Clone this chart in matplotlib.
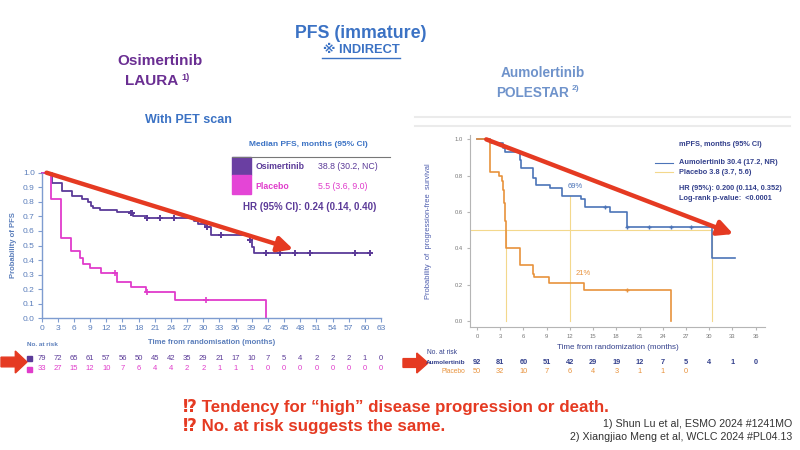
import matplotlib
matplotlib.use('Agg')
import matplotlib.pyplot as plt
import numpy as np
from matplotlib.transforms import blended_transform_factory
from matplotlib.patches import Polygon, Rectangle

plt.rcParams['font.family'] = ['Liberation Sans', 'DejaVu Sans', 'Noto Sans CJK JP']

# ---- LAURA (osimertinib vs placebo) ----
osi_t = [0, 1.9, 3.7, 5.6, 7.4, 8.6, 9.1, 9.5, 10.8, 13.9, 16.4, 17.0, 19.5, 28.2, 29.0, 30.3, 31.5, 38.6, 39.0, 39.4, 60.9]
osi_s = [1.0, 0.927, 0.872, 0.84, 0.82, 0.80, 0.77, 0.755, 0.744, 0.732, 0.72, 0.705, 0.687, 0.665, 0.645, 0.625, 0.572, 0.538, 0.49, 0.446, 0.446]
osi_cens = [16.5, 16.8, 19.5, 22.0, 24.6, 30.6, 33.2, 38.6, 41.6, 44.3, 47.0, 49.8, 58.1, 60.9]

plcL_t = [0, 1.7, 3.6, 5.4, 7.1, 7.6, 9.0, 11.1, 13.9, 16.6, 19.3, 24.7, 41.6]
plcL_s = [1.0, 0.82, 0.549, 0.462, 0.416, 0.373, 0.348, 0.313, 0.247, 0.217, 0.178, 0.126, 0.0]
plcL_cens = [13.6, 19.5, 30.5]

months_left = list(range(0, 64, 3))
risk_osi = [79, 72, 65, 61, 57, 56, 50, 45, 42, 35, 29, 21, 17, 10, 7, 5, 4, 2, 2, 2, 1, 0]
risk_plcL = [33, 27, 15, 12, 10, 7, 6, 4, 4, 2, 2, 1, 1, 1, 0, 0, 0, 0, 0, 0, 0, 0]

# ---- POLESTAR (aumolertinib vs placebo) ----
aum_t = [0, 1.7, 3.4, 3.65, 5.5, 5.7, 7.3, 7.65, 9.4, 11.0, 13.5, 14.0, 17.2, 19.4, 30.4, 33.3]
aum_s = [1.0, 0.98, 0.955, 0.932, 0.888, 0.844, 0.79, 0.748, 0.73, 0.688, 0.67, 0.629, 0.60, 0.52, 0.345, 0.345]
aum_cens = [16.6, 19.4, 22.2, 25.0, 27.6]

plcR_t = [0, 1.7, 2.9, 3.2, 3.4, 3.55, 3.65, 3.8, 5.5, 7.2, 7.4, 9.3, 13.8, 25.0]
plcR_s = [1.0, 0.82, 0.80, 0.77, 0.72, 0.65, 0.55, 0.40, 0.307, 0.26, 0.244, 0.207, 0.171, 0.0]
plcR_cens = [19.4]

months_right = list(range(0, 37, 3))
risk_aum = [92, 81, 60, 51, 42, 29, 19, 12, 7, 5, 4, 1, 0]
risk_plcR = [50, 32, 10, 7, 6, 4, 3, 1, 1, 0]

median_aum, median_plcR, landmark, landmark_s = 30.4, 3.8, 12, 0.69

# trend arrows (start, end) in data units
arrow_left = [(0.9, 1.0), (46.7, 0.474)]
arrow_right = [(1.2, 1.0), (33.1, 0.479)]

PURPLE = '#5B3A98'
MAGENTA = '#E03CCB'
BLUE_T = '#3B72C4'
AXBLUE = '#5B7EBB'
AUM = '#4C74B8'
ORANGE = '#E8923C'
YELLOW = '#F3D88C'
NAVY = '#33408C'
RED = '#E53A22'


def surv_at(t, s, c):
    idx = np.searchsorted(np.array(t), np.array(c), side='right') - 1
    return np.array(s)[idx]


fig = plt.figure(figsize=(8, 4.5), dpi=100)
W, H = 800, 450

# overlay in pixel coordinates for slide text
ov = fig.add_axes([0, 0, 1, 1], zorder=5)
ov.set_xlim(0, W)
ov.set_ylim(H, 0)
ov.axis('off')
ov.patch.set_alpha(0)

# ---------------- left chart ----------------
axL = fig.add_axes([41.7 / W, 1 - 318.3 / H, (381 - 41.7) / W, (318.3 - 172.7) / H])
axL.set_xlim(0, 63)
axL.set_ylim(0, 1.0)
for sp in ['top', 'right']:
    axL.spines[sp].set_visible(False)
for sp in ['left', 'bottom']:
    axL.spines[sp].set_color('#7E9CD0')
    axL.spines[sp].set_linewidth(1.0)
axL.set_xticks(months_left)
axL.set_yticks(np.round(np.arange(0, 1.01, 0.1), 1))
axL.set_yticklabels(['%.1f' % v for v in np.arange(0, 1.01, 0.1)])
axL.tick_params(colors='#7E9CD0', labelcolor=AXBLUE, labelsize=6, length=3, pad=2)
axL.step(osi_t, osi_s, where='post', color=PURPLE, lw=1.3, clip_on=False)
axL.step(plcL_t, plcL_s, where='post', color=MAGENTA, lw=1.3, clip_on=False)
axL.plot(osi_cens, surv_at(osi_t, osi_s, osi_cens), '+', color=PURPLE, ms=5, mew=1.4, clip_on=False)
axL.plot(plcL_cens, surv_at(plcL_t, plcL_s, plcL_cens), '+', color=MAGENTA, ms=5, mew=1.2, clip_on=False)
axL.annotate('', xy=arrow_left[1], xytext=arrow_left[0],
             arrowprops=dict(arrowstyle='-|>,head_length=0.9,head_width=0.45', color=RED, lw=3.2,
                             shrinkA=0, shrinkB=0), annotation_clip=False)
axL.set_ylabel('Probability of PFS', color=AXBLUE, fontsize=5.5, fontweight='bold', labelpad=4)
axL.set_xlabel('Time from randomisation (months)', color=AXBLUE, fontsize=5.5, fontweight='bold', labelpad=5)

# legend box
ov.plot([231.7, 390], [156.7, 156.7], color='#777777', lw=0.8)
ov.add_patch(Rectangle((231.7, 156.7), 19, 18.5, color='#6A3FA2'))
ov.add_patch(Rectangle((231.7, 175.2), 19, 19, color='#E445D6'))
ov.text(308, 145, 'Median PFS, months (95% CI)', color=BLUE_T, fontsize=6, fontweight='bold', ha='center', va='center')
ov.text(255.7, 166.5, 'Osimertinib', color=PURPLE, fontsize=6.3, fontweight='bold', va='center')
ov.text(318.3, 166.5, '38.8 (30.2, NC)', color=PURPLE, fontsize=6.3, va='center')
ov.text(255.7, 186.5, 'Placebo', color=MAGENTA, fontsize=6.3, fontweight='bold', va='center')
ov.text(318.3, 186.5, '5.5 (3.6, 9.0)', color=MAGENTA, fontsize=6.3, va='center')
ov.text(243.3, 207.3, 'HR (95% CI): 0.24 (0.14, 0.40)', color=PURPLE, fontsize=7, fontweight='bold', va='center')

# number at risk (left)
trL = blended_transform_factory(axL.transData, ov.transData)
ov.text(27, 345, 'No. at risk', color=AXBLUE, fontsize=4.6, fontweight='bold', va='center')
ov.add_patch(Rectangle((26.5, 355.5), 5, 5, color=PURPLE))
ov.add_patch(Rectangle((26.5, 366.5), 5, 5, color=MAGENTA))
for m, a, b in zip(months_left, risk_osi, risk_plcL):
    ov.text(m, 358, str(a), transform=trL, color=PURPLE, fontsize=5.5, ha='center', va='center')
    ov.text(m, 369, str(b), transform=trL, color=MAGENTA, fontsize=5.5, ha='center', va='center')

# ---------------- right chart ----------------
ov.plot([415, 790], [116.7, 116.7], color='#EBEBEB', lw=1.5)
ov.plot([415, 790], [125.7, 125.7], color='#EBEBEB', lw=1.5)

axR = fig.add_axes([470 / W, 1 - 326.7 / H, 295 / W, (326.7 - 135) / H])
axR.set_xlim(-0.9, 37.2)
axR.set_ylim(-0.031, 1.024)
for sp in ['top', 'right']:
    axR.spines[sp].set_visible(False)
for sp in ['left', 'bottom']:
    axR.spines[sp].set_color('#B5B5B5')
    axR.spines[sp].set_linewidth(0.8)
axR.set_xticks(months_right)
axR.set_yticks([0, 0.2, 0.4, 0.6, 0.8, 1.0])
axR.set_yticklabels(['0.0', '0.2', '0.4', '0.6', '0.8', '1.0'])
axR.tick_params(colors='#B5B5B5', labelcolor='#777777', labelsize=4.2, length=2, pad=3)
axR.plot([-0.9, median_aum], [0.5, 0.5], color=YELLOW, lw=0.8)
axR.plot([median_plcR, median_plcR], [0, 0.5], color=YELLOW, lw=0.8)
axR.plot([landmark, landmark], [0, landmark_s], color=YELLOW, lw=0.8)
axR.plot([median_aum, median_aum], [0, 0.5], color=YELLOW, lw=0.8)
axR.step(aum_t, aum_s, where='post', color=AUM, lw=1.2)
axR.step(plcR_t, plcR_s, where='post', color=ORANGE, lw=1.2)
axR.plot(aum_cens, surv_at(aum_t, aum_s, aum_cens), '+', color=AUM, ms=3.5, mew=1.0)
axR.plot(plcR_cens, surv_at(plcR_t, plcR_s, plcR_cens), '+', color=ORANGE, ms=3.5, mew=1.0)
axR.text(12.7, 0.743, '69%', color=AUM, fontsize=5.5, ha='center', va='center')
axR.text(13.7, 0.262, '21%', color=ORANGE, fontsize=5.5, ha='center', va='center')
axR.annotate('', xy=arrow_right[1], xytext=arrow_right[0],
             arrowprops=dict(arrowstyle='-|>,head_length=0.9,head_width=0.45', color=RED, lw=3.2,
                             shrinkA=0, shrinkB=0), annotation_clip=False)
axR.set_xlabel('Time from randomization (months)', color=NAVY, fontsize=5.8, labelpad=4)
ov.text(428, 231, 'Probability  of  progression-free  survival', color='#4D5DAE', fontsize=5.4,
        rotation=90, ha='center', va='center')

ov.plot([655, 673], [163, 163], color=AUM, lw=0.8)
ov.plot([655, 673], [172, 172], color=YELLOW, lw=0.8)
LEG = dict(color=NAVY, fontsize=5.3, fontweight='bold', va='center')
ov.text(679, 145, 'mPFS, months (95% CI)', **LEG)
ov.text(679, 162.5, 'Aumolertinib 30.4 (17.2, NR)', **LEG)
ov.text(679, 172, 'Placebo 3.8 (3.7, 5.6)', **LEG)
ov.text(679, 189, 'HR (95%): 0.200 (0.114, 0.352)', **LEG)
ov.text(679, 199, 'Log-rank p-value:  <0.0001', **LEG)

trR = blended_transform_factory(axR.transData, ov.transData)
ov.text(427, 352.7, 'No. at risk', color=NAVY, fontsize=4.8, va='center')
ov.text(465, 362.3, 'Aumolertinib', color=NAVY, fontsize=4.6, fontweight='bold', ha='right', va='center')
ov.text(465, 371.7, 'Placebo', color=ORANGE, fontsize=4.8, ha='right', va='center')
for m, a in zip(months_right, risk_aum):
    ov.text(m, 362.3, str(a), transform=trR, color=NAVY, fontsize=5.3, fontweight='bold', ha='center', va='center')
for m, b in zip(months_right, risk_plcR):
    ov.text(m, 371.7, str(b), transform=trR, color=ORANGE, fontsize=5.3, ha='center', va='center')


# block arrows pointing at the risk tables
def block_arrow(x0, y0, w, h):
    pts = [(x0, y0 - h * 0.22), (x0 + w * 0.55, y0 - h * 0.22), (x0 + w * 0.55, y0 - h / 2),
           (x0 + w, y0), (x0 + w * 0.55, y0 + h / 2), (x0 + w * 0.55, y0 + h * 0.22), (x0, y0 + h * 0.22)]
    ov.add_patch(Polygon(pts, closed=True, color=RED))


block_arrow(1, 362, 26, 22)
block_arrow(403, 363, 25, 20)

# ---------------- slide text ----------------
ov.text(361, 33, 'PFS (immature)', color=BLUE_T, fontsize=12.8, fontweight='bold', ha='center', va='center')
ov.text(361, 50, '\u203b INDIRECT', color=BLUE_T, fontsize=9.3, fontweight='bold', ha='center', va='center')
ov.plot([322, 400], [57.5, 57.5], color=BLUE_T, lw=1)
PUR_T = '#6A2E92'
ov.text(160, 61, 'Osimertinib', color=PUR_T, fontsize=11, fontweight='bold', ha='center', va='center')
ov.text(178, 81, 'LAURA', color=PUR_T, fontsize=11, fontweight='bold', ha='right', va='center')
ov.text(181, 77, '1)', color=PUR_T, fontsize=6.5, fontweight='bold', ha='left', va='center')
LB = '#6F93CB'
ov.text(543, 73, 'Aumolertinib', color=LB, fontsize=9.8, fontweight='bold', ha='center', va='center')
ov.text(569, 93, 'POLESTAR', color=LB, fontsize=9.8, fontweight='bold', ha='right', va='center')
ov.text(572, 89, '2)', color=LB, fontsize=6, fontweight='bold', ha='left', va='center')
ov.text(188, 120, 'With PET scan', color=BLUE_T, fontsize=9, fontweight='bold', ha='center', va='center')

ov.text(183, 407, '\u2049 Tendency for \u201chigh\u201d disease progression or death.', color=RED, fontsize=12.2,
        fontweight='bold', va='center')
ov.text(183, 426, '\u2049 No. at risk suggests the same.', color=RED, fontsize=12.2,
        fontweight='bold', va='center')
ov.text(792, 424, '1) Shun Lu et al, ESMO 2024 #1241MO', color='#333333', fontsize=7.7, ha='right', va='center')
ov.text(792, 437, '2) Xiangjiao Meng et al, WCLC 2024 #PL04.13', color='#333333', fontsize=7.7, ha='right', va='center')

fig.savefig('out.png', dpi=100)
